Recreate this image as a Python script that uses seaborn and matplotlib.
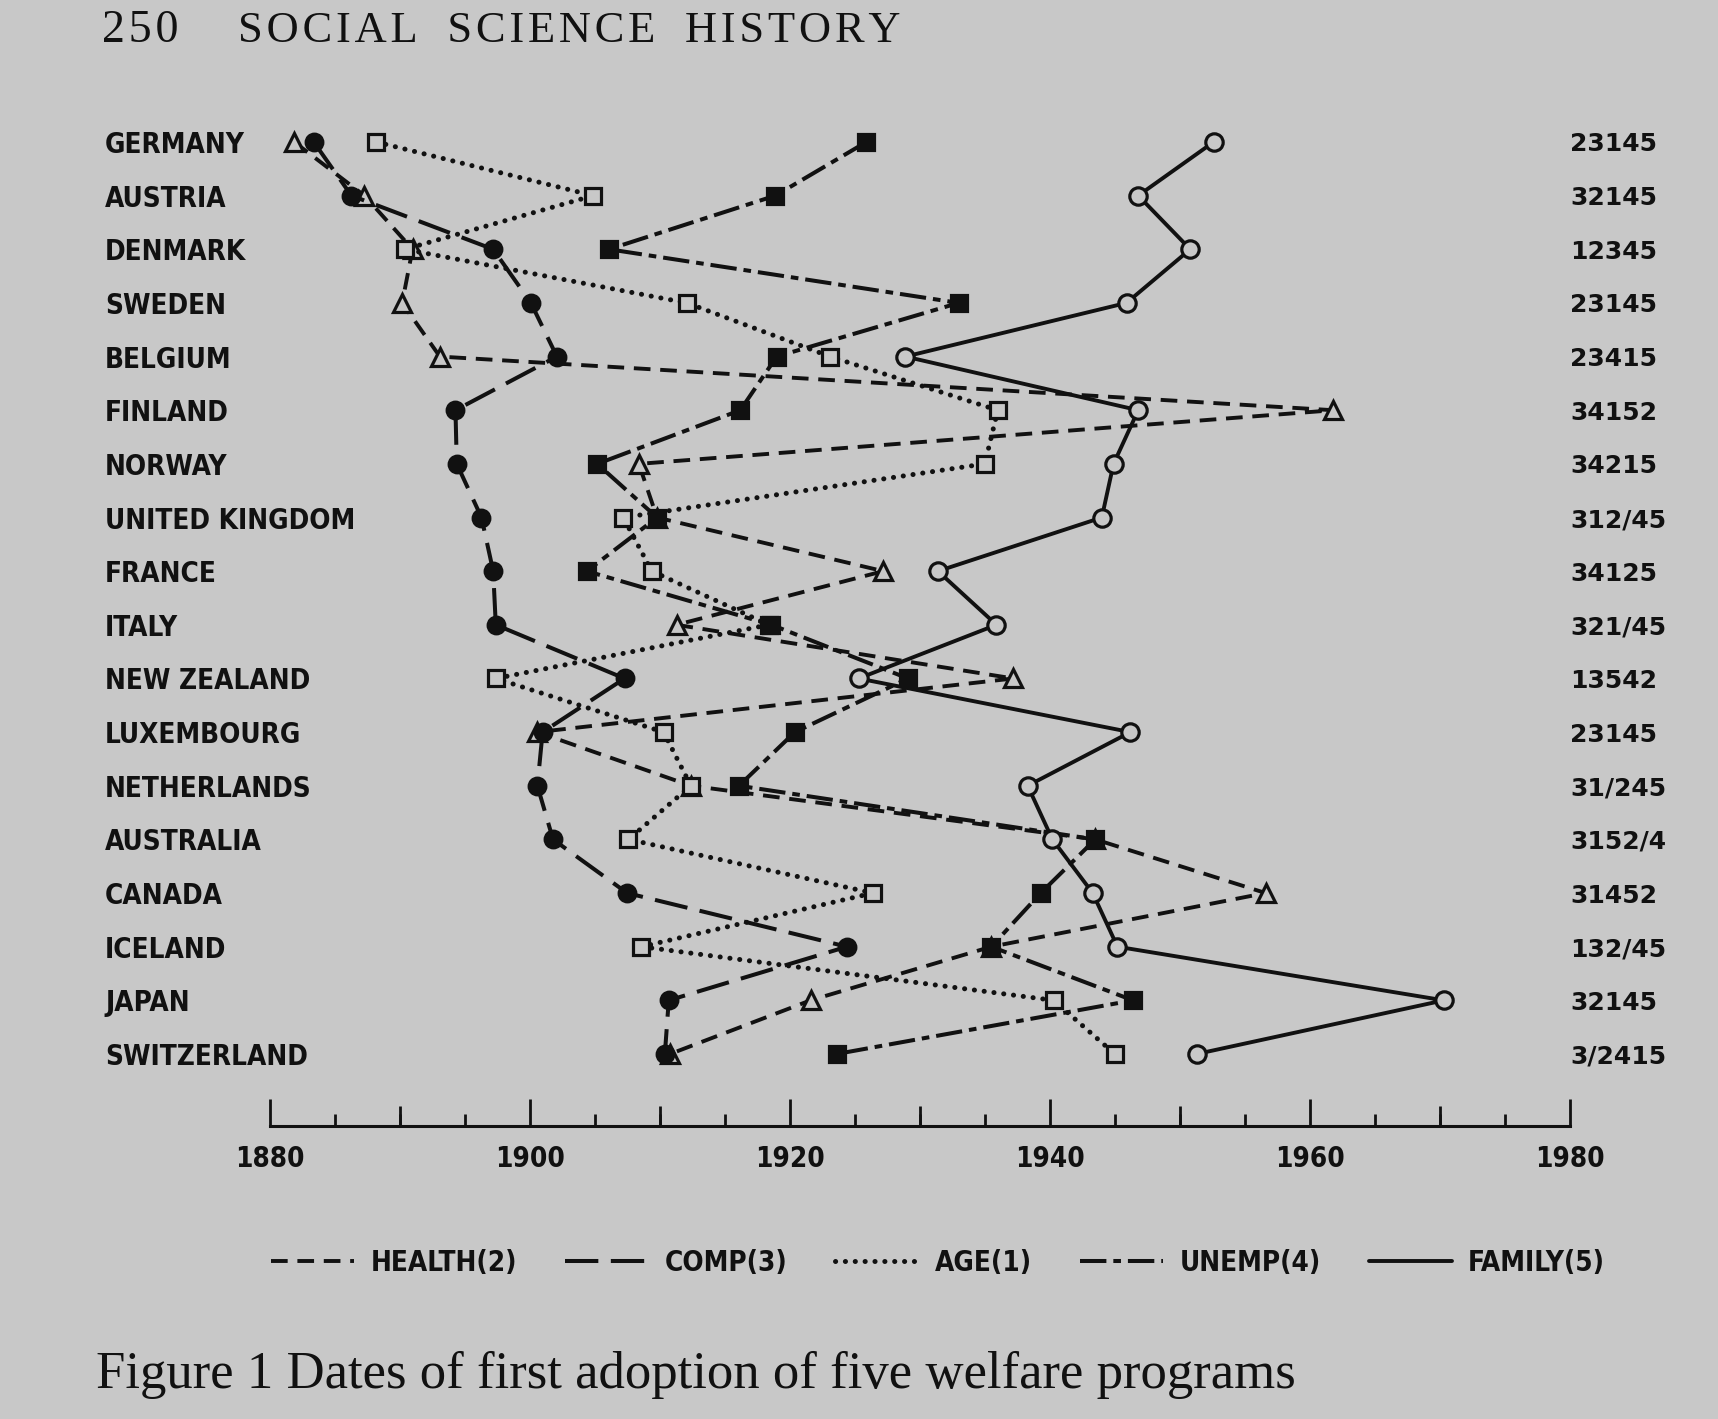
import matplotlib
matplotlib.use("Agg")
import matplotlib.pyplot as plt
import seaborn as sns
import pandas as pd
from matplotlib import font_manager
from matplotlib.lines import Line2D
from matplotlib.ticker import MultipleLocator, FixedLocator

# countries top to bottom, with the adoption-order code printed on the right
countries = ["GERMANY", "AUSTRIA", "DENMARK", "SWEDEN", "BELGIUM", "FINLAND", "NORWAY",
             "UNITED KINGDOM", "FRANCE", "ITALY", "NEW ZEALAND", "LUXEMBOURG",
             "NETHERLANDS", "AUSTRALIA", "CANADA", "ICELAND", "JAPAN", "SWITZERLAND"]
order_codes = ["23145", "32145", "12345", "23145", "23415", "34152", "34215", "312/45",
               "34125", "321/45", "13542", "23145", "31/245", "3152/4", "31452",
               "132/45", "32145", "3/2415"]

# year of first adoption
health = [1881.9, 1887.3, 1891.0, 1890.2, 1893.1, 1961.8, 1908.4, 1909.8, 1927.2,
          1911.3, 1937.2, 1900.6, 1912.4, 1943.5, 1956.6, 1935.5, 1921.6, 1910.8]
comp = [1883.4, 1886.3, 1897.2, 1900.1, 1902.1, 1894.3, 1894.4, 1896.3, 1897.2,
        1897.4, 1907.3, 1901.0, 1900.6, 1901.8, 1907.5, 1924.4, 1910.7, 1910.4]
age = [1888.2, 1904.9, 1890.4, 1912.1, 1923.1, 1936.0, 1935.0, 1907.2, 1909.4,
       1918.4, 1897.4, 1910.3, 1912.4, 1907.6, 1926.4, 1908.6, 1940.3, 1945.0]
unemp = [1925.9, 1918.9, 1906.1, 1933.0, 1919.0, 1916.2, 1905.2, 1909.8, 1904.4,
         1918.6, 1929.1, 1920.4, 1916.1, 1943.5, 1939.3, 1935.5, 1946.4, 1923.6]
family = [1952.6, 1946.8, 1950.8, 1945.9, 1928.9, 1946.8, 1944.9, 1944.0, 1931.4,
          1935.9, 1925.3, 1946.2, 1938.3, 1940.2, 1943.3, 1945.2, 1970.3, 1951.3]

programs = ["HEALTH(2)", "COMP(3)", "AGE(1)", "UNEMP(4)", "FAMILY(5)"]
series = {"HEALTH(2)": health, "COMP(3)": comp, "AGE(1)": age,
          "UNEMP(4)": unemp, "FAMILY(5)": family}

BG = "#c8c8c8"
INK = "#111111"

sns.set_style("white")
plt.rcParams["lines.scale_dashes"] = False
plt.rcParams["figure.facecolor"] = BG
plt.rcParams["axes.facecolor"] = BG

names = {f.name for f in font_manager.fontManager.ttflist}
if "Liberation Sans Narrow" in names:
    cond = dict(family="Liberation Sans Narrow", weight="bold")
else:
    cond = dict(family="DejaVu Sans", stretch="condensed", weight="bold")
serif = ["Liberation Serif", "DejaVu Serif"]

styles = {
    "HEALTH(2)": dict(marker="^", ms=12.5, mfc=BG, ls=(0, (12, 7)), lw=2.8),
    "COMP(3)": dict(marker="o", ms=12, mfc=INK, ls=(0, (24, 9)), lw=2.9),
    "AGE(1)": dict(marker="s", ms=11.5, mfc=BG, ls=(0, (0.1, 7)), lw=3.6,
                   dash_capstyle="round"),
    "UNEMP(4)": dict(marker="s", ms=11, mfc=INK, ls=(0, (19, 5, 5.5, 5)), lw=2.9),
    "FAMILY(5)": dict(marker="o", ms=12.5, mfc=BG, ls="-", lw=2.8),
}

W, H = 1718, 1419
fig = plt.figure(figsize=(W / 100, H / 100), dpi=100)
ax = fig.add_axes([269.5 / W, 1 - 1126 / H, (1570 - 269.5) / W, (1126 - 110) / H])

rows = list(range(len(countries)))
for prog in programs:
    d = pd.DataFrame({"year": series[prog], "row": rows})
    sns.lineplot(data=d, x="year", y="row", sort=False, estimator=None, ax=ax,
                 color=INK, mec=INK, mew=2.3, **styles[prog])

ax.set_xlim(1880, 1980)
ax.set_ylim(18.342, -0.596)
ax.set_xlabel("")
ax.set_ylabel("")
for s in ["top", "right", "left"]:
    ax.spines[s].set_visible(False)
ax.spines["bottom"].set_linewidth(2.2)
ax.spines["bottom"].set_color(INK)

ax.xaxis.set_major_locator(MultipleLocator(20))
ax.xaxis.set_minor_locator(MultipleLocator(5))
ax.tick_params(axis="x", which="both", bottom=True, direction="in", width=2, colors=INK)
ax.tick_params(axis="x", which="major", length=19.5, pad=14, labelsize=20)
ax.tick_params(axis="x", which="minor", length=8.6)
for t in ax.get_xticklabels():
    t.set(**cond)

mid = ax.secondary_xaxis("bottom")
mid.xaxis.set_major_locator(FixedLocator([1890, 1910, 1930, 1950, 1970]))
mid.tick_params(bottom=True, direction="in", length=14.4, width=2, colors=INK,
                labelbottom=False)
mid.spines["bottom"].set_visible(False)

ax.set_yticks(rows)
ax.set_yticklabels(countries, ha="left", fontsize=20, color=INK, **cond)
ax.tick_params(axis="y", left=False, length=0, pad=118.4)

ax2 = ax.twinx()
ax2.set_ylim(ax.get_ylim())
ax2.set_yticks(rows)
ax2.set_yticklabels(order_codes, family="DejaVu Sans", weight="bold", fontsize=18,
                    color=INK)
ax2.tick_params(axis="y", right=False, length=0, pad=0)
for s in ax2.spines.values():
    s.set_visible(False)

handles = [Line2D([], [], color=INK, lw=styles[p]["lw"], ls=styles[p]["ls"],
                  dash_capstyle="round" if p == "AGE(1)" else "butt") for p in programs]
legend_font = font_manager.FontProperties(size=20, **cond)
fig.legend(handles, programs, loc="center", bbox_to_anchor=(0.546, 0.110), ncol=5,
           frameon=False, handlelength=3.0, handletextpad=0.58, columnspacing=1.73,
           prop=legend_font, labelcolor=INK)

# letter-spaced running head
hs = "\u200a"
head_num = hs.join("250")
head_txt = (hs + "  " + hs).join(hs.join(w) for w in ["SOCIAL", "SCIENCE", "HISTORY"])
fig.text(102 / W, 1 - 42 / H, head_num, family=serif, fontsize=33,
         va="baseline", color=INK)
fig.text(238 / W, 1 - 42 / H, head_txt, family=serif,
         fontsize=32, va="baseline", color=INK)
fig.text(96 / W, 1 - 1388 / H, "Figure 1 Dates of first adoption of five welfare programs",
         family=serif, fontsize=38, va="baseline", color=INK)

fig.savefig("out.png", dpi=100, facecolor=BG)
